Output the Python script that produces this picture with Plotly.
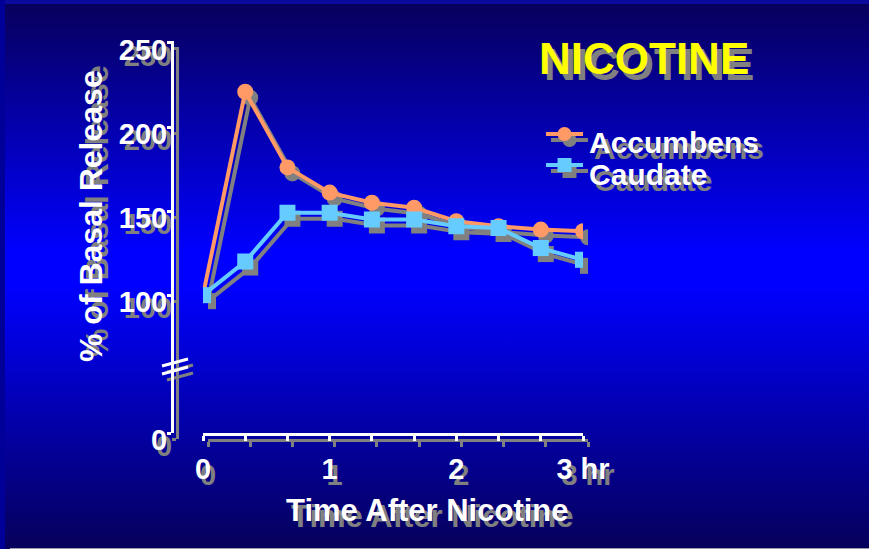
import base64
import plotly.graph_objects as go

W, H = 869, 549

# ---------------- data ----------------
time_min = [0, 20, 40, 60, 80, 100, 120, 140, 160, 180]
accumbens = [100, 221, 176, 161, 155, 152, 144, 141, 139, 138]
caudate = [100, 120, 149, 149, 145, 145, 141, 140, 128, 121]
series_names = ["Accumbens", "Caudate"]
x_tick_vals = [0, 20, 40, 60, 80, 100, 120, 140, 160, 180]
x_tick_text = ["0", "", "", "1", "", "", "2", "", "", "3 hr"]
y_tick_vals = [18, 100, 150, 200, 250]      # 18 = broken-axis position of the "0" label
y_tick_text = ["0", "100", "150", "200", "250"]
title_text = "NICOTINE"
x_title = "Time After Nicotine"
y_title = "% of Basal Release"

# ---------------- style ----------------
ACC = "#FF9966"
CAU = "#66CCFF"
SHADOW = "#808080"
WHITE = "#FFFFFF"
FONT = "Liberation Sans, Arial, sans-serif"
DX, DY = 5, 6            # shadow offset in px
TSHADOW = f"{DX}px {DY}px 0px {SHADOW}"

def xd(a, b, dx=0):
    return [(a + dx) / W, (b + dx) / W]

def yd(top, bottom, dy=0):
    return [1 - (bottom + dy) / H, 1 - (top + dy) / H]

def px(x):
    return x / W

def py(y):
    return 1 - y / H

X_L, X_R = 203, 583
Y_T, Y_B = 41.3, 433
Y_AX = 172

fig = go.Figure()

series = [(accumbens, ACC, "circle"), (caudate, CAU, "square")]
# shadow traces (subplot x/y) drawn first
for (vals, col, sym), name in zip(series, series_names):
    fig.add_trace(go.Scatter(
        x=time_min, y=vals, name=name + " shadow", mode="lines+markers",
        line=dict(color=SHADOW, width=4),
        marker=dict(color=SHADOW, size=16, symbol=sym),
        xaxis="x", yaxis="y", showlegend=False, hoverinfo="skip"))
# main traces (subplot x2/y2)
for (vals, col, sym), name in zip(series, series_names):
    fig.add_trace(go.Scatter(
        x=time_min, y=vals, name=name, mode="lines+markers",
        line=dict(color=col, width=4),
        marker=dict(color=col, size=16, symbol=sym),
        xaxis="x2", yaxis="y2", showlegend=False))
# legend symbols (text is drawn as annotations), shadow legends first
for lg_ids, colorize in ((["legend", "legend2"], False), (["legend3", "legend4"], True)):
    for (vals, col, sym), lg in zip(series, lg_ids):
        c = col if colorize else SHADOW
        fig.add_trace(go.Scatter(
            x=[None], y=[None], name="", mode="lines+markers",
            line=dict(color=c, width=4), marker=dict(color=c, size=14, symbol=sym),
            xaxis="x2", yaxis="y2", legend=lg, showlegend=True, hoverinfo="skip"))

def xaxis(color, dx, labels):
    return dict(domain=xd(X_L, X_R, dx), range=[0, 180], showgrid=False, zeroline=False,
                showline=True, linecolor=color, linewidth=3,
                ticks="outside", ticklen=5, tickwidth=3, tickcolor=color,
                tickvals=x_tick_vals, ticktext=x_tick_text, ticklabelstandoff=3,
                showticklabels=labels,
                tickfont=dict(family=FONT, size=29, color=color, weight="bold", shadow=TSHADOW),
                fixedrange=True)

def yaxis(color, dx, dy, labels):
    return dict(domain=yd(Y_T, Y_B, dy), range=[18, 251], showgrid=False, zeroline=False,
                showline=True, linecolor=color, linewidth=3, anchor="free",
                position=px(Y_AX + dx),
                ticks="outside", ticklen=4, tickwidth=3, tickcolor=color,
                tickvals=y_tick_vals, ticktext=y_tick_text, showticklabels=labels,
                ticklabelstandoff=-6, ticklabelshift=7,
                tickfont=dict(family=FONT, size=29, color=color, weight="bold", shadow=TSHADOW),
                fixedrange=True)

xa_sh = xaxis(SHADOW, DX, False); xa_sh["anchor"] = "y"
ya_sh = yaxis(SHADOW, DX, DY, False)
xa_mn = xaxis(WHITE, 0, True); xa_mn["anchor"] = "y2"
ya_mn = yaxis(WHITE, 0, 0, True)

# background gradient
svg = f'''<svg xmlns="http://www.w3.org/2000/svg" width="{W}" height="{H}" viewBox="0 0 {W} {H}" preserveAspectRatio="none">
<defs><linearGradient id="g" x1="0" y1="0" x2="0" y2="1">
<stop offset="0" stop-color="#08005A"/>
<stop offset="0.46" stop-color="#0000FF"/>
<stop offset="0.52" stop-color="#0000FF"/>
<stop offset="1" stop-color="#06005A"/>
</linearGradient></defs>
<rect x="0" y="0" width="{W}" height="{H}" fill="url(#g)"/>
<rect x="0" y="0" width="{W}" height="4" fill="#0A0A9E"/>
<rect x="0" y="0" width="5" height="{H}" fill="#000098"/>
<rect x="10" y="{H-1}" width="{W-10}" height="1" fill="#9A9AAA"/>
</svg>'''
bg_src = "data:image/svg+xml;base64," + base64.b64encode(svg.encode()).decode()

annotations = []
def add_text(text, x, y, size, color, xanchor="center", yanchor="middle", angle=0):
    annotations.append(dict(text=text, x=px(x), y=py(y), xref="paper", yref="paper",
                            showarrow=False, xanchor=xanchor, yanchor=yanchor, textangle=angle,
                            font=dict(family=FONT, size=size, color=color, weight="bold",
                                      shadow=TSHADOW)))

add_text(title_text, 644, 58, 44, "#FFFF00")
add_text(x_title, 427, 510, 31, WHITE)
add_text(y_title, 91, 216, 32, WHITE, angle=-90)
add_text(series_names[0], 587, 143, 30, WHITE, xanchor="left")
add_text(series_names[1], 587, 174, 30, WHITE, xanchor="left")

# broken-axis marks
shapes = []
for y0 in (366, 374):
    shapes.append(dict(type="line", xref="paper", yref="paper", layer="below",
                       x0=px(162 + DX), y0=py(y0 + DY), x1=px(188 + DX), y1=py(y0 - 7 + DY),
                       line=dict(color=SHADOW, width=3)))
for y0 in (366, 374):
    shapes.append(dict(type="line", xref="paper", yref="paper", layer="above",
                       x0=px(162), y0=py(y0), x1=px(188), y1=py(y0 - 7),
                       line=dict(color=WHITE, width=3)))

def legend_cfg(x, y):
    return dict(x=px(x), y=py(y), xanchor="left", yanchor="middle", bgcolor="rgba(0,0,0,0)",
                borderwidth=0, itemwidth=37, itemclick=False, itemdoubleclick=False,
                font=dict(family=FONT, size=10, color="rgba(0,0,0,0)"))

fig.update_layout(
    width=W, height=H, autosize=False,
    margin=dict(l=0, r=0, t=0, b=0, pad=0, autoexpand=False),
    paper_bgcolor="#0000AA", plot_bgcolor="rgba(0,0,0,0)",
    showlegend=True,
    xaxis=xa_sh, yaxis=ya_sh, xaxis2=xa_mn, yaxis2=ya_mn,
    legend=legend_cfg(541 + DX, 134 + DY),
    legend2=legend_cfg(541 + DX, 165 + DY),
    legend3=legend_cfg(541, 134),
    legend4=legend_cfg(541, 165),
    images=[dict(source=bg_src, xref="paper", yref="paper", x=0, y=1, sizex=1, sizey=1,
                 xanchor="left", yanchor="top", sizing="stretch", layer="below")],
    annotations=annotations,
    shapes=shapes,
    hovermode=False,
)

fig.write_html("out.html", config={"displayModeBar": False},
               post_script="document.body.style.margin='0';document.body.style.background='#000066';")
